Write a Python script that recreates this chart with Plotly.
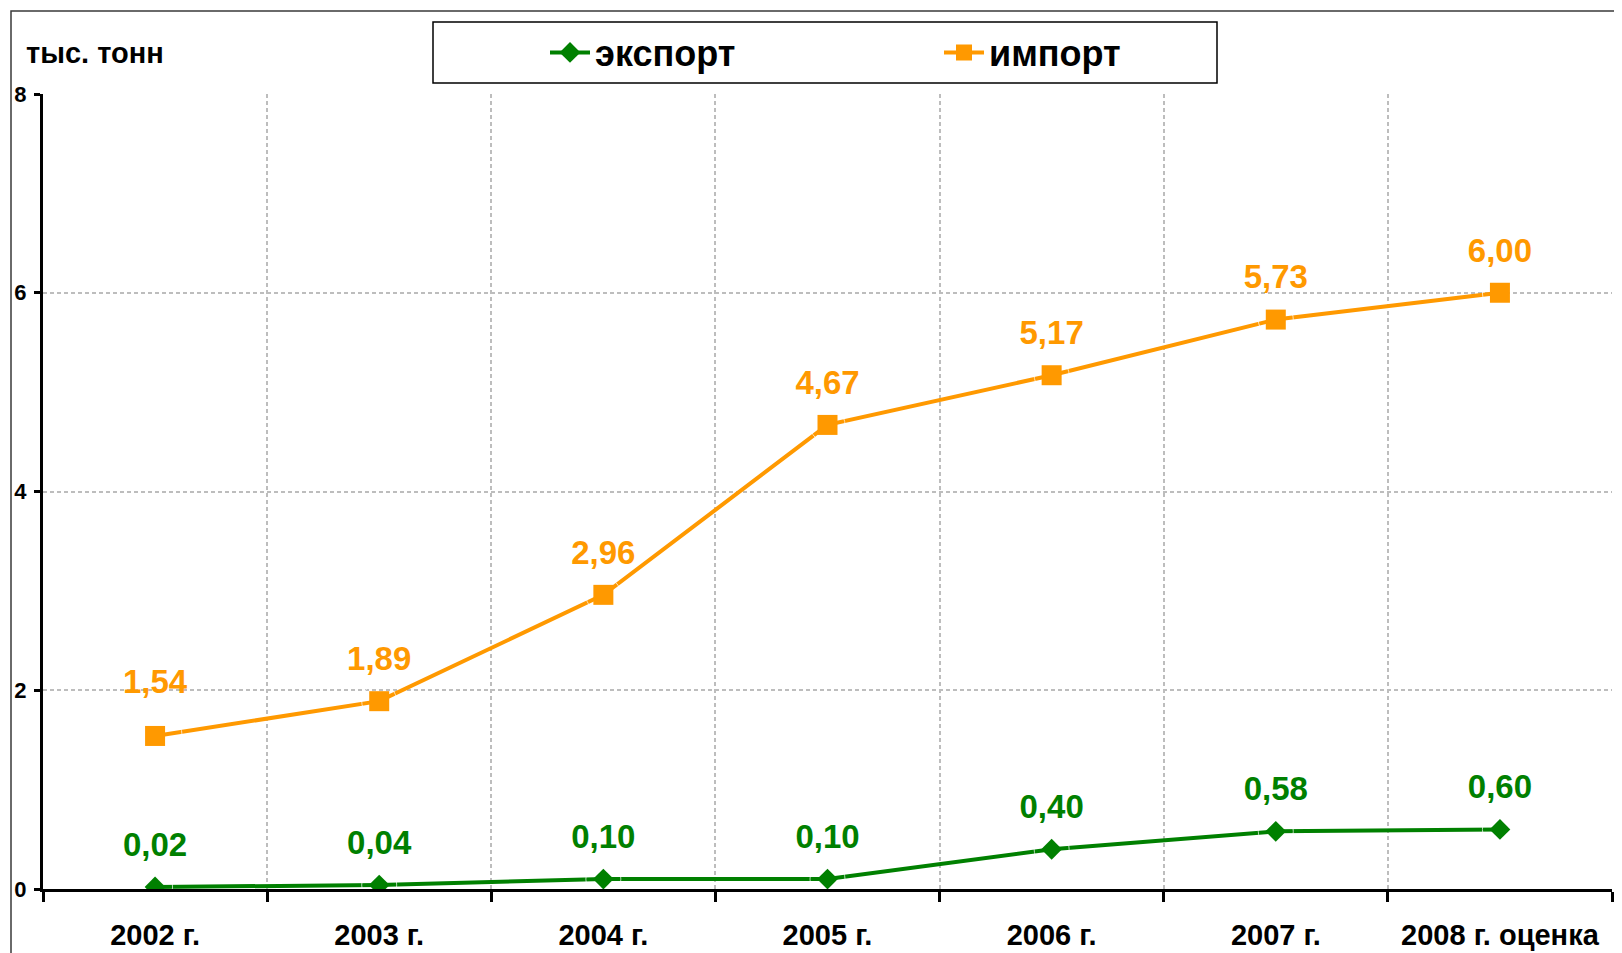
import plotly.graph_objects as go

categories = ["2002 г.", "2003 г.", "2004 г.", "2005 г.", "2006 г.", "2007 г.", "2008 г. оценка"]
export_vals = [0.02, 0.04, 0.10, 0.10, 0.40, 0.58, 0.60]
import_vals = [1.54, 1.89, 2.96, 4.67, 5.17, 5.73, 6.00]
y_ticks = [0, 2, 4, 6, 8]
unit_label = "тыс. тонн"

GREEN = "#008000"
ORANGE = "#FF9900"
FONT = "Liberation Sans, Arial, sans-serif"


def fmt(v):
    return f"{v:.2f}".replace(".", ",")


OFF = 8  # default page body margin
W, H = 1622 - OFF, 953 - OFF
# plot area in page pixels
PX0, PX1, PY0, PY1 = 43, 1612, 94, 889.5
L = PX0 - OFF
R = W - (PX1 - OFF)
T = PY0 - OFF
B = H - (PY1 - OFF)
pw = W - L - R
ph = H - T - B


def px_x(p):
    return (p - OFF - L) / pw


def px_y(p):
    return (H - B - (p - OFF)) / ph


fig = go.Figure()

fig.add_trace(go.Scatter(
    x=categories, y=export_vals, name="экспорт", mode="lines+markers",
    line=dict(color=GREEN, width=4),
    marker=dict(symbol="diamond", size=16, color=GREEN),
))
fig.add_trace(go.Scatter(
    x=categories, y=import_vals, name="импорт", mode="lines+markers",
    line=dict(color=ORANGE, width=4),
    marker=dict(symbol="square", size=20, color=ORANGE),
))

# data labels (invisible spacer markers set the label offset above each point)
label_gap_export = [35, 35, 35, 35, 35, 35, 35]
label_gap_import = [54, 35, 35, 35, 35, 35, 35]
for vals, col, gap in ((export_vals, GREEN, label_gap_export),
                       (import_vals, ORANGE, label_gap_import)):
    fig.add_trace(go.Scatter(
        x=categories, y=vals, mode="markers+text", showlegend=False,
        text=[fmt(v) for v in vals], textposition="top center",
        textfont=dict(family=FONT, size=33, color=col, weight="bold"),
        marker=dict(size=gap, color="rgba(0,0,0,0)"),
        hoverinfo="skip",
    ))

fig.update_layout(
    width=W, height=H,
    margin=dict(l=L, r=R, t=T, b=B, autoexpand=False),
    paper_bgcolor="white", plot_bgcolor="white",
    font=dict(family=FONT, color="black"),
    showlegend=True,
    legend=dict(
        orientation="h", x=px_x(545), xanchor="left",
        y=px_y(52.5), yanchor="middle",
        font=dict(family=FONT, size=36, color="black", weight="bold"),
        bgcolor="rgba(0,0,0,0)", borderwidth=0,
        itemwidth=40,
        entrywidth=339, entrywidthmode="pixels",
    ),
    xaxis=dict(
        type="category", range=[-0.5, 6.5],
        tickson="boundaries", automargin=False,
        showline=True, linecolor="black", linewidth=3,
        ticks="outside", ticklen=10, tickwidth=3, tickcolor="black",
        showgrid=True, gridcolor="#BDBDBD", gridwidth=2, griddash="4px,3px",
        tickfont=dict(family=FONT, size=29, color="black", weight="bold"),
        ticklabelstandoff=18,
        zeroline=False, fixedrange=True,
    ),
    yaxis=dict(
        range=[0, 8], tickvals=y_ticks, automargin=False,
        showline=True, linecolor="black", linewidth=3,
        ticks="outside", ticklen=6, tickwidth=3, tickcolor="black",
        showgrid=True, gridcolor="#BDBDBD", gridwidth=2, griddash="4px,3px",
        tickfont=dict(family=FONT, size=22, color="black", weight="bold"),
        ticklabelstandoff=3,
        zeroline=False, fixedrange=True,
    ),
    shapes=[
        dict(type="rect", xref="paper", yref="paper",
             x0=px_x(11), x1=px_x(1640), y0=px_y(980), y1=px_y(11),
             line=dict(color="#3a3a3a", width=1.5), fillcolor="rgba(0,0,0,0)", layer="below"),
        dict(type="rect", xref="paper", yref="paper",
             x0=px_x(433), x1=px_x(1217), y0=px_y(83), y1=px_y(22),
             line=dict(color="black", width=1.5), fillcolor="white", layer="below"),
    ],
    annotations=[
        dict(text=unit_label, xref="paper", yref="paper",
             x=px_x(24), y=px_y(53), xanchor="left", yanchor="middle",
             showarrow=False,
             font=dict(family=FONT, size=29, color="black", weight="bold")),
    ],
)

fig.write_html("out.html")
